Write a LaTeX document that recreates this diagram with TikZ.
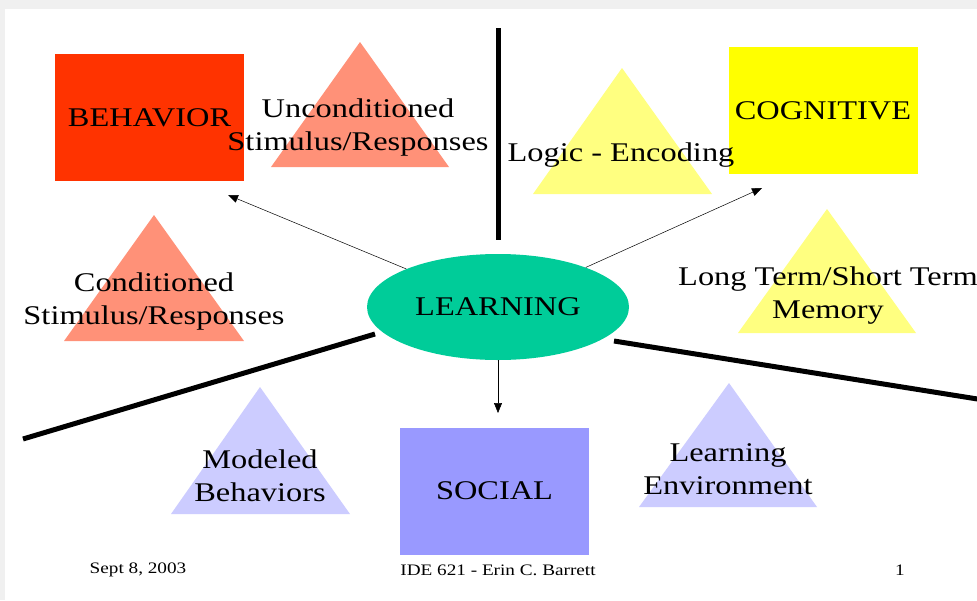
\documentclass[tikz,border=0pt]{standalone}
\usepackage{fontspec}
\setmainfont[FakeStretch=1.2]{Liberation Serif}
\usetikzlibrary{arrows.meta, shapes.geometric}
\definecolor{behaviorred}{RGB}{255,51,0}
\definecolor{behaviorpale}{RGB}{255,145,120}
\definecolor{cognitiveyellow}{RGB}{255,255,0}
\definecolor{cognitivepale}{RGB}{255,255,128}
\definecolor{socialblue}{RGB}{153,153,255}
\definecolor{socialpale}{RGB}{204,204,255}
\definecolor{learninggreen}{RGB}{0,204,153}

\begin{document}
\begin{tikzpicture}[x=1pt, y=-1pt,
    every node/.style={font=\fontsize{27}{33}\selectfont, align=center, inner sep=0pt},
    area/.style={rectangle, minimum width=189pt, minimum height=127pt},
    footer/.style={font=\fontsize{16}{18}\selectfont},
    link/.style={-{Triangle[length=10pt,width=8pt]}, line width=0.5pt},
    divider/.style={line width=5pt}]
    \useasboundingbox (0,0) rectangle (977,600);
    \fill[gray!12] (0,0) rectangle (977,600);
    \fill[white] (5,9) rectangle (977,600);

    % triangles
    \fill[behaviorpale] (360,42) -- (271,167) -- (449,167) -- cycle;
    \fill[behaviorpale] (154,215) -- (64,341) -- (244,341) -- cycle;
    \fill[cognitivepale] (622,68) -- (533,194) -- (712,194) -- cycle;
    \fill[cognitivepale] (827,209) -- (738,333) -- (916,333) -- cycle;
    \fill[socialpale] (260,387) -- (171,514) -- (350,514) -- cycle;
    \fill[socialpale] (729,383) -- (639,507) -- (817,507) -- cycle;

    % dividers
    \draw[divider] (498,28) -- (498,240);
    \draw[divider] (375,334) -- (23,439);
    \draw[divider] (614,341) -- (990,401);

    \node[area, fill=behaviorred] at (149.5,117.5) (behavior) {BEHAVIOR};
    \node[area, fill=cognitiveyellow] at (823,110.5) (cognitive) {COGNITIVE};
    \node[area, fill=socialblue] at (494.5,491) (social) {SOCIAL};
    \node[ellipse, fill=learninggreen, minimum width=262pt, minimum height=106pt] at (498,307) (learning) {LEARNING};

    \node at (358,128) (uncond) {Unconditioned\\Stimulus/Responses};
    \node at (154,302) (cond) {Conditioned\\Stimulus/Responses};
    \node at (621,155) (logic) {Logic - Encoding};
    \node at (828,296) (memory) {Long Term/Short Term\\Memory};
    \node at (260,476) (modeled) {Modeled\\Behaviors};
    \node at (728,469) (environment) {Learning\\Environment};

    \coordinate (behaviortip) at (228,195);
    \coordinate (cognitivetip) at (762,188);
    \coordinate (socialtip) at (498,413);
    \draw[link] (learning) -- (behaviortip);
    \draw[link] (learning) -- (cognitivetip);
    \draw[link] (learning.south) -- (socialtip);

    \node[footer] at (138,570) (date) {Sept 8, 2003};
    \node[footer] at (498,570) (course) {IDE 621 - Erin C. Barrett};
    \node[footer] at (900,570) (page) {1};
\end{tikzpicture}
\end{document}
